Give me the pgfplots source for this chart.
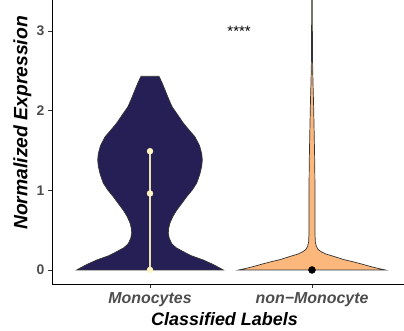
\documentclass[border=0pt]{standalone}
\usepackage{fontspec}
\setmainfont{Liberation Sans}
\usepackage{pgfplots}
\pgfplotsset{compat=1.18}
\definecolor{navy}{HTML}{251F56}
\definecolor{peach}{HTML}{FBB77C}
\definecolor{outl}{HTML}{333333}
\definecolor{ticktxt}{HTML}{4D4D4D}
\definecolor{creamline}{HTML}{E8E0B0}
\definecolor{creampt}{HTML}{FFF5C2}
\begin{document}
\begin{tikzpicture}
\useasboundingbox (0,0) rectangle (404bp,331bp);
\begin{axis}[
  at={(52bp,47bp)}, anchor=south west,
  scale only axis, width=352bp, height=284bp,
  xmin=0.395, xmax=2.568, ymin=-0.176, ymax=3.388,
  axis x line*=bottom, axis y line*=left,
  axis line style={black, line width=0.8bp, -},
  xtick={1,2}, xticklabels={Monocytes,non−Monocyte},
  ytick={0,1,2,3},
  tick align=outside, major tick length=4bp,
  tick style={outl, line width=0.7bp},
  /pgf/number format/assume math mode=true,
  xticklabel style={font=\fontsize{16}{16}\selectfont\bfseries\itshape, text=ticktxt, yshift=-1.5bp},
  yticklabel style={font=\fontsize{14}{14}\selectfont\bfseries, text=ticktxt},
  xlabel={Classified Labels},
  ylabel={Normalized Expression},
  xlabel style={font=\fontsize{18}{18}\selectfont\bfseries\itshape, at={(axis description cs:0.49,0)}, anchor=north, yshift=-25bp},
  ylabel style={font=\fontsize{19.4}{19.4}\selectfont\bfseries\itshape, at={(axis description cs:-0.084,0.567)}, anchor=center, rotate=0},
]
% Monocytes violin
\addplot[fill=navy, draw=outl, line width=0.7bp] coordinates {
(0.5475,0) (0.5741,0.03) (0.6111,0.07) (0.6710,0.125) (0.7469,0.18) (0.7944,0.23) (0.8395,0.28) (0.8660,0.33) (0.8815,0.40) (0.8870,0.46) (0.8852,0.52) (0.8765,0.59) (0.8593,0.67) (0.8352,0.75) (0.8056,0.83) (0.7735,0.92) (0.7407,1.00) (0.7117,1.09) (0.6926,1.20) (0.6809,1.30) (0.6772,1.38) (0.6809,1.46) (0.6944,1.56) (0.7222,1.67) (0.7562,1.75) (0.7932,1.84) (0.8302,1.95) (0.8642,2.05) (0.8858,2.15) (0.9074,2.26) (0.9259,2.35) (0.9444,2.43)
(1.0556,2.43) (1.0741,2.35) (1.0926,2.26) (1.1142,2.15) (1.1358,2.05) (1.1698,1.95) (1.2068,1.84) (1.2438,1.75) (1.2778,1.67) (1.3056,1.56) (1.3191,1.46) (1.3228,1.38) (1.3191,1.30) (1.3074,1.20) (1.2883,1.09) (1.2593,1.00) (1.2265,0.92) (1.1944,0.83) (1.1648,0.75) (1.1407,0.67) (1.1235,0.59) (1.1148,0.52) (1.1130,0.46) (1.1185,0.40) (1.1340,0.33) (1.1605,0.28) (1.2056,0.23) (1.2531,0.18) (1.3290,0.125) (1.3889,0.07) (1.4259,0.03) (1.4525,0)
} --cycle;
% non-Monocyte violin
\addplot[fill=peach, draw=outl, line width=0.7bp] coordinates {
(1.5475,0) (1.5926,0.02) (1.6420,0.045) (1.6852,0.07) (1.7407,0.10) (1.8025,0.13) (1.8599,0.167) (1.9136,0.20) (1.9444,0.23) (1.9630,0.26) (1.9735,0.30) (1.9790,0.35) (1.9815,0.45) (1.9815,0.7) (1.9815,1.0) (1.9827,1.3) (1.9864,1.72) (1.9907,2.13) (1.9938,2.35) (1.9963,2.6) (1.9975,3.0) (1.9981,3.6)
(2.0019,3.6) (2.0025,3.0) (2.0037,2.6) (2.0062,2.35) (2.0093,2.13) (2.0136,1.72) (2.0173,1.3) (2.0185,1.0) (2.0185,0.7) (2.0185,0.45) (2.0210,0.35) (2.0265,0.30) (2.0370,0.26) (2.0556,0.23) (2.0864,0.20) (2.1401,0.167) (2.1975,0.13) (2.2593,0.10) (2.3148,0.07) (2.3580,0.045) (2.4074,0.02) (2.4525,0)
} --cycle;
% quantile line and points
\addplot[creamline, line width=1.5bp] coordinates {(1,0) (1,1.49)};
\addplot[only marks, mark=*, mark size=3bp, mark options={fill=creampt, draw=creampt}] coordinates {(1,0) (1,0.96) (1,1.49)};
\addplot[only marks, mark=*, mark size=3.5bp, mark options={fill=black, draw=black}] coordinates {(2,0)};
\node[anchor=base, font=\fontsize{15}{15}\selectfont] at (axis cs:1.55,2.93) {****};
\end{axis}
\end{tikzpicture}
\end{document}
